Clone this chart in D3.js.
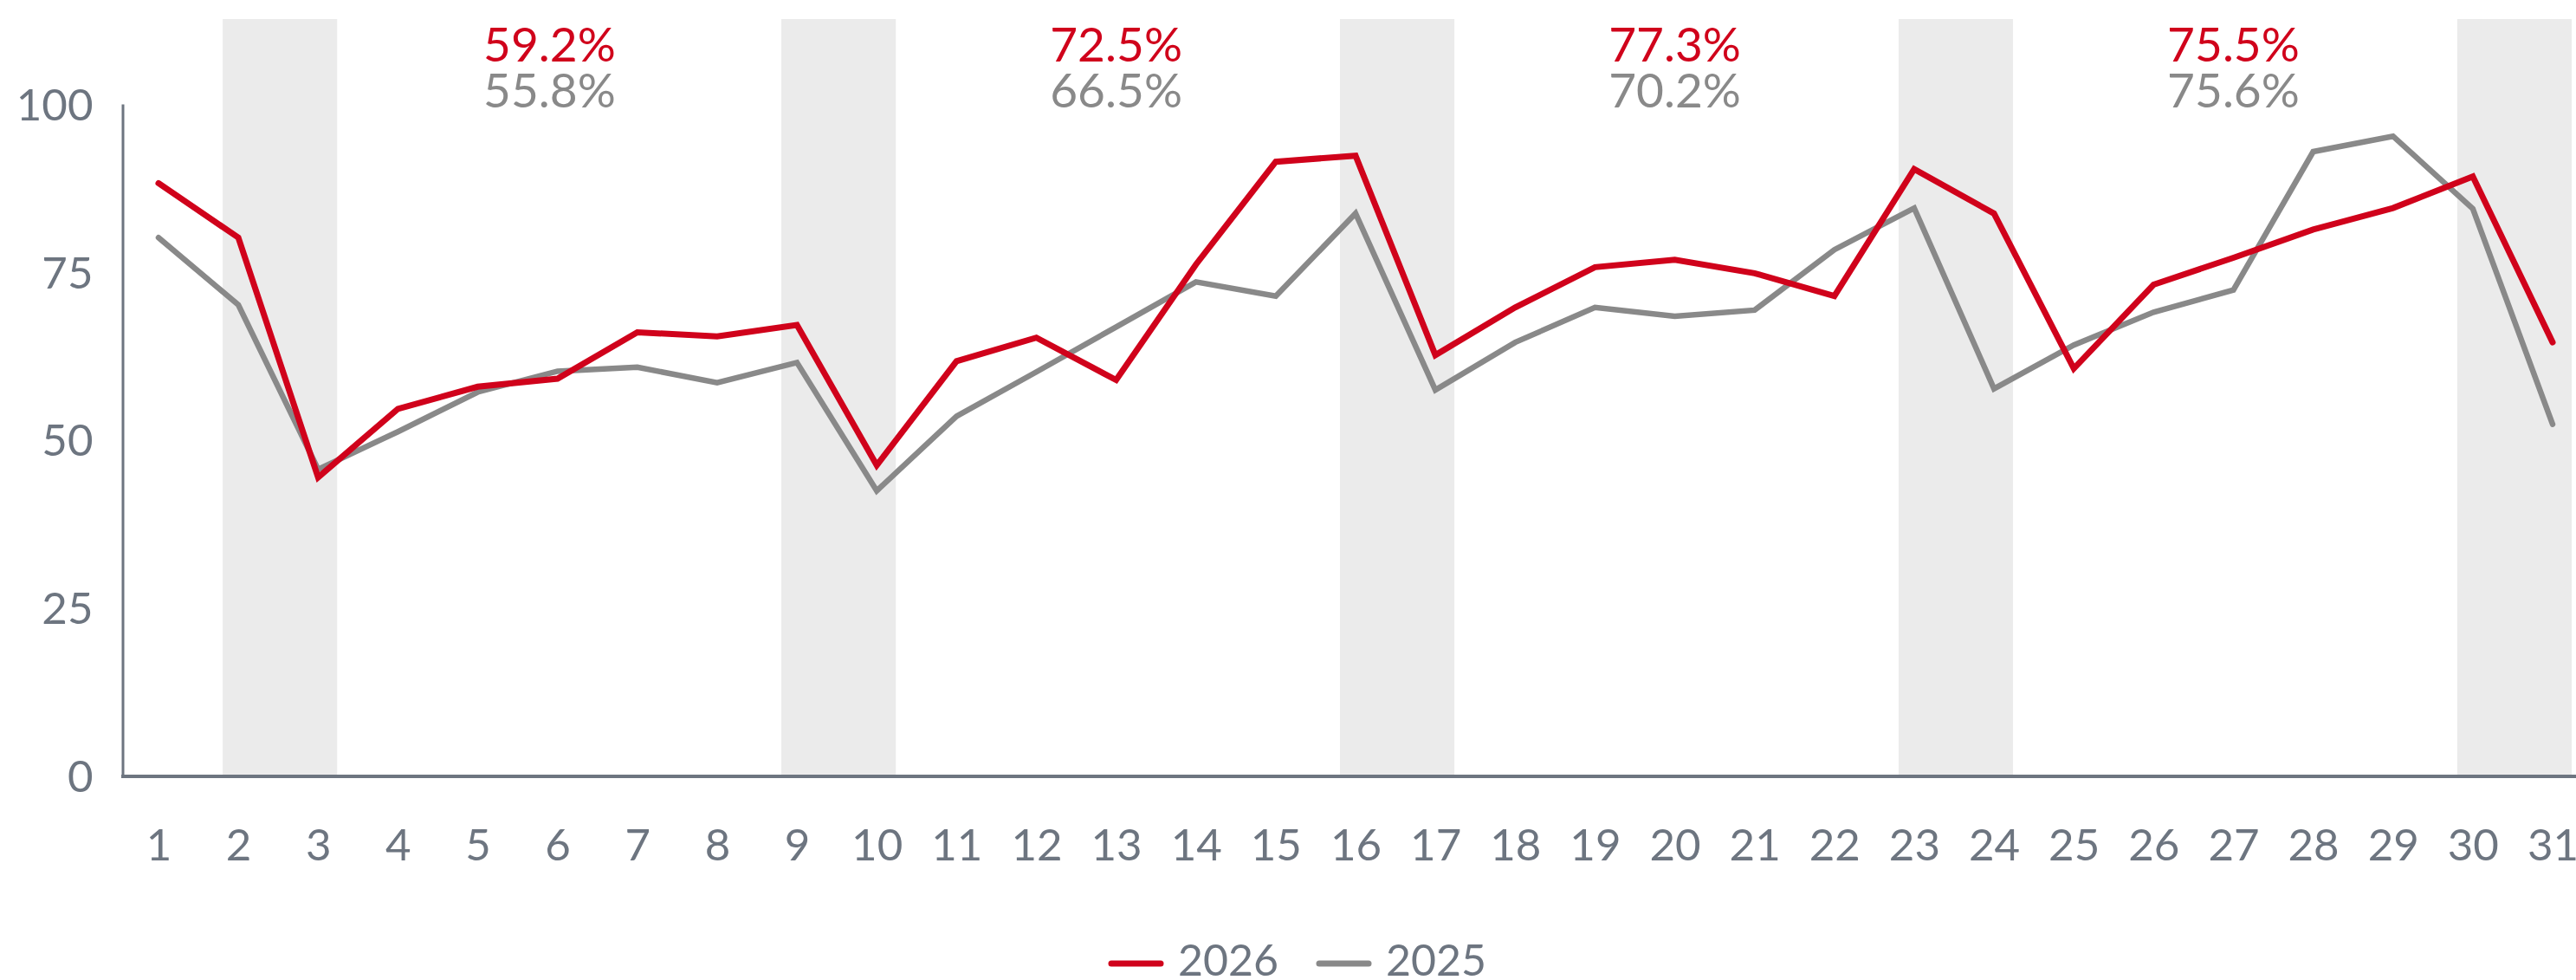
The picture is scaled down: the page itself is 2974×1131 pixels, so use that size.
<!DOCTYPE html>
<html>
<head>
<meta charset="utf-8">
<script src="https://cdn.jsdelivr.net/npm/d3@7"></script>
<style>
  html, body { margin: 0; padding: 0; background: #fff; }
  svg { display: block; font-family: Lato, "Noto Sans", sans-serif; }
</style>
</head>
<body>
<svg width="2974" height="1131"></svg>
<script>
const days = d3.range(1, 32);
const sales2026 = [88.2, 80.1, 44.4, 54.6, 57.9, 59.1, 66.0, 65.4, 67.1, 46.2,
                   61.7, 65.2, 58.9, 76.1, 91.4, 92.3, 62.6, 69.7, 75.7, 76.8,
                   74.8, 71.4, 90.3, 83.7, 60.6, 73.1, 77.1, 81.3, 84.5, 89.2, 64.5];
const sales2025 = [80.1, 70.1, 45.6, 51.2, 57.1, 60.2, 60.8, 58.5, 61.5, 42.4,
                   53.5, 60.1, 66.8, 73.5, 71.4, 83.7, 57.4, 64.5, 69.7, 68.4,
                   69.3, 78.3, 84.5, 57.6, 64.1, 69.0, 72.3, 92.9, 95.2, 84.4, 52.3];
const weekendStarts = [2, 9, 16, 23, 30];
const weekMid = [5.9, 13, 20, 27];
const weekPct2026 = ["59.2%", "72.5%", "77.3%", "75.5%"];
const weekPct2025 = ["55.8%", "66.5%", "70.2%", "75.6%"];
const yTicks = [0, 25, 50, 75, 100];
const seriesNames = ["2026", "2025"];

const red = "#d0021b", grey = "#898989", axisCol = "#6d7580";

const svg = d3.select("svg");
const x = d3.scaleLinear().domain([1, 31]).range([183, 2947]);
const y = d3.scaleLinear().domain([0, 100]).range([895, 120]);

// weekend shading
svg.append("g").selectAll("rect")
    .data(weekendStarts)
    .enter()
    .append("rect")
    .attr("x", d => x(d) - 18)
    .attr("width", d => x(d + 1) - x(d) + 40)
    .attr("y", 22)
    .attr("height", y(0) - 22)
    .attr("fill", "#ebebeb");

// y axis
const yAxis = svg.append("g")
    .attr("transform", "translate(141.5,0)")
    .call(d3.axisLeft(y).tickValues(yTicks).tickSize(0).tickPadding(34));
yAxis.select(".domain").attr("stroke", axisCol).attr("stroke-width", 3);
yAxis.selectAll("text").attr("font-size", 51).attr("fill", axisCol)
    .attr("font-family", "Lato").attr("dy", "0.36em");

// x axis
const xAxis = svg.append("g")
    .attr("transform", `translate(0,${y(0)})`)
    .call(d3.axisBottom(x).tickValues(days).tickFormat(d3.format("d")).tickSize(0).tickPadding(62));
xAxis.select(".domain").remove();
xAxis.selectAll("text").attr("font-size", 51).attr("fill", axisCol)
    .attr("font-family", "Lato");

svg.append("line")
    .attr("x1", 140).attr("x2", 2974)
    .attr("y1", y(0) + 1).attr("y2", y(0) + 1)
    .attr("stroke", axisCol).attr("stroke-width", 4);

// lines
const line = d3.line().x((d, i) => x(days[i])).y(d => y(d));
[[sales2025, grey, 6.5], [sales2026, red, 7]].forEach(([vals, col, w]) => {
    svg.append("path")
        .datum(vals)
        .attr("d", line)
        .attr("fill", "none")
        .attr("stroke", col)
        .attr("stroke-width", w)
        .attr("stroke-linejoin", "miter")
        .attr("stroke-linecap", "round");
});

// weekly percentages
const pct = svg.append("g").attr("font-size", 55).attr("text-anchor", "middle");
pct.selectAll(".p26").data(weekMid).enter().append("text")
    .attr("x", d => x(d)).attr("y", 71).attr("fill", red)
    .text((d, i) => weekPct2026[i]);
pct.selectAll(".p25").data(weekMid).enter().append("text")
    .attr("x", d => x(d)).attr("y", 124).attr("fill", grey)
    .text((d, i) => weekPct2025[i]);

// legend
const legend = svg.append("g").selectAll("g")
    .data(seriesNames)
    .enter()
    .append("g")
    .attr("transform", (d, i) => `translate(${1283 + i * 240},1112)`);
legend.append("line")
    .attr("x1", 0).attr("x2", 57)
    .attr("stroke", (d, i) => i === 0 ? red : grey)
    .attr("stroke-width", 7)
    .attr("stroke-linecap", "round");
legend.append("text")
    .attr("x", 77).attr("y", 14)
    .attr("font-size", 50).attr("fill", axisCol)
    .text(d => d);
</script>
</body>
</html>
